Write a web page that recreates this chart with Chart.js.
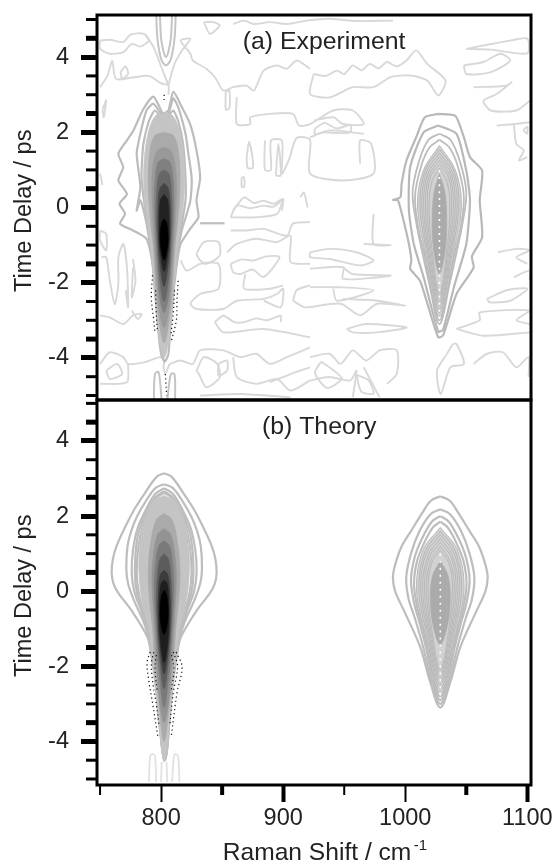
<!DOCTYPE html>
<html><head><meta charset="utf-8">
<style>
html,body{margin:0;padding:0;background:#fff;width:556px;height:864px;overflow:hidden}
canvas{position:absolute;left:0;filter:blur(.5px)}
#a{top:0}#b{top:398px}
</style>
<script src="https://cdn.jsdelivr.net/npm/chart.js@4"></script>
</head><body>
<canvas id="a" width="556" height="402"></canvas>
<canvas id="b" width="556" height="466"></canvas>
<script>
const xTickValues=[750,800,850,900,950,1000,1050,1100];
const xTickHeavy=[850,900,1050,1100];
const yTickValues=[-5,-4.5,-4,-3.5,-3,-2.5,-2,-1.5,-1,-0.5,0,0.5,1,1.5,2,2.5,3,3.5,4,4.5,5];
const yTickHeavy=[4.5,4,2.5,2,0.5,0,-1.5,-2,-3.5,-4];
const yLabelled=[-4,-2,0,2,4];
const peakLow=802.5, peakHighExp=1028, peakHighThe=1028.7;

// --- (a) Experiment: filled bands around the 802 cm-1 mode, rows are [delay, half width]
const expBandShades=['#c4c4c4','#aaaaaa','#999999','#808080','#666666','#444444','#222222','#000000'];
const expBands=[
 [[2.5,0],[2.45,7],[2,13],[1.2,16.5],[.4,16.5],[-.4,14],[-1,11],[-1.6,9.5],[-2.5,6.5],[-3.4,4.5],[-4,0]],
 [[2,0],[1.9,8],[1.4,12],[.6,13],[-.4,11],[-1,9],[-1.8,7.5],[-2.8,5],[-3.6,0]],
 [[1.6,0],[1.5,6],[1,9.5],[.4,10],[-.5,9],[-1.2,7.5],[-2,6],[-2.8,3.5],[-3.2,0]],
 [[1.3,0],[1.2,5],[.7,7.5],[0,8],[-.8,7],[-1.6,5.5],[-2.4,3.5],[-2.8,0]],
 [[1,0],[.9,4],[.4,6],[-.3,6.5],[-1,5.5],[-1.8,4],[-2.5,0]],
 [[.65,0],[.5,3.5],[0,5],[-.7,5],[-1.4,3.8],[-2.1,0]],
 [[.35,0],[.2,3],[-.3,4],[-1,3.8],[-1.7,0]],
 [[-.3,0],[-.4,2],[-.8,3.3],[-1.1,2.5],[-1.4,0]]
];
// contours around the 802 mode
const expLowLoops=[
 [[801.4,2.49],[793.7,2.95],[785.5,2.62],[777.3,2.05],[771.9,1.78],[765,1.43],[769,1.07],[765,.72],[772,.36],[766,.1],[770.5,-.17],[766.4,-.43],[777,-.61],[788,-.83],[792,-1.3],[795,-2],[797,-3],[800,-3.9],[803,-4.1],[806,-3.9],[808,-3],[811,-2],[815.6,-1],[823.8,-.57],[830.6,-.26],[829,.19],[832,.8],[829,1.52],[824,2.2],[817,2.67],[810,3.08],[806,2.58],[801.4,2.49]],
 [[801.8,2.4],[793.7,2.76],[788,2.58],[783,1.96],[780,1.43],[783,.54],[780,-.08],[783,.19],[787,-.26],[790,-.8],[793,-1.5],[796,-2.6],[803,-3.9],[809,-2.6],[812,-1.5],[817,-.6],[821,-.17],[824,.19],[825,.8],[822,1.5],[820,1.96],[814,2.67],[810,2.9],[806,2.5],[801.8,2.4]],
 [[802,2.3],[795,2.58],[790,2.3],[785.5,1.69],[784,.8],[787,-.08],[790,-.7],[794,-1.5],[803,-3.8],[811,-1.5],[816,-.6],[820,.19],[820,.8],[818,1.69],[814,2.3],[810,2.58],[806,2.45],[802,2.3]]
];
// --- 1028 cm-1 mode contours
const expHighJagged=[
 [[1027,2.49],[1016,2.4],[1009,1.87],[1001,1.25],[997,.63],[996,.27],[990,.2],[994,.19],[998.6,-.35],[1003,-.97],[1005,-1.41],[1004,-1.63],[1012,-1.94],[1019,-2.65],[1027,-3.45],[1031,-3.4],[1042,-2.3],[1056,-1.6],[1054.6,-1.3],[1063,-.79],[1061,.19],[1063,.98],[1053,1.34],[1048,1.87],[1041,2.44],[1027,2.49]],
 [[1027,2.18],[1015,2],[1004,1.07],[1003,-.08],[1007,-.97],[1015,-1.85],[1027,-3.3],[1031,-3.25],[1040,-2.1],[1050,-.97],[1053,.19],[1050,.98],[1042,1.96],[1027,2.18]]
];
const expHighRings=[
 [[1.96,0],[1.8,9],[1.2,17],[.4,22],[-.4,19],[-1.2,14],[-2,8.5],[-3.1,0]],
 [[1.8,0],[1.6,8],[1.1,15],[.3,20],[-.5,17.5],[-1.3,12],[-2.1,7],[-3,0]]
];
const expHighFilled=[
 [[1.65,0],[1,13],[.1,18],[-1,13],[-2.9,0]],
 [[1.55,0],[1,11.5],[.1,16],[-1,11.5],[-2.8,0]],
 [[1.45,0],[.95,10.5],[.1,14.5],[-1,10.5],[-2.7,0]],
 [[1.35,0],[.9,9.5],[.1,13],[-1,9.5],[-2.6,0]],
 [[1.25,0],[.85,8.5],[.1,11.5],[-1,8.5],[-2.5,0]],
 [[1.15,0],[.8,7.5],[.1,10],[-1,7.5],[-2.4,0]],
 [[1.05,0],[.7,6],[.1,8.5],[-1,6.5],[-2.3,0]]
];
const expHighCore=[[.9,0],[.4,4.5],[-.4,6],[-1.2,4.5],[-1.76,0]];
const expHighGap=[[1028,1],[1028,-3.1]];
// small-signal contours, closed
const expNoiseLoops=[
 [[750,4.44],[758,4.46],[769,4.4],[775,4.6],[786,4.62],[790,4.44],[783,4.28],[776,4.35],[769,4.13],[758,4.09],[750,4.22]],
 [[835,4.93],[843,4.93],[848,4.84],[840,4.62]],
 [[925,3.55],[935,3.5],[944,3.64],[950,3.55],[957,3.78],[964,3.65],[971,3.82],[978,3.7],[985,3.87],[993,3.75],[1001,3.91],[1009,4.18],[1018,3.82],[1033,3.38],[1027,2.98],[1018,3.38],[1004,3.51],[988,3.47],[974,3.2],[957,3.2],[938,2.93],[922,3.02]],
 [[1050,4.22],[1064,4.31],[1086,4.44],[1100,4.49],[1100,4.1],[1070,4.2]],
 [[1048,3.78],[1064,3.87],[1078,4.09],[1086,3.91],[1070,3.6],[1050,3.55]],
 [[853,3.1],[853,2.6],[856,2.65],[856,3.1]],
 [[866,.8],[866,.55],[868,.55],[868,.8]],
 [[857,-.26],[862,.05],[873,-.02],[884,.05],[892,.02],[899,.19],[895,-.17],[878,-.26]],
 [[829,-1.23],[835,-.92],[847,-.92],[848,-1.28],[837,-1.5],[831,-1.37]],
 [[857,-1.5],[866,-1.38],[876,-1.41],[886,-1.3],[897,-1.32],[884,-1.85],[875,-1.65],[865,-1.77],[859,-1.72]],
 [[829,-4.34],[835,-3.98],[846,-4.16],[848,-4.52],[837,-4.78],[831,-4.43]],
 [[847,-4.16],[854,-4.07],[854,-4.34],[847,-4.47]],
 [[755,-4.34],[764,-4.16],[768,-4.43],[758,-4.56]],
 [[750,-.61],[755,-.7],[755,-1.14],[750,-.88]],
 [[922,-1.19],[938,-1.1],[960,-1.19],[974,-1.41],[963,-1.54],[938,-1.37],[922,-1.32]],
 [[952,-3.23],[968,-3.1],[1001,-3.19],[977,-3.32],[957,-3.32]],
 [[1039,-3.63],[1034,-3.9],[1026,-4.34],[1029,-4.96],[1037,-4.25],[1048,-4.16],[1042,-3.63]],
 [[1067,-2.43],[1083,-2.2],[1100,-2.16],[1086,-2.48],[1069,-2.52]],
 [[926,2.1],[934,2.25],[944,2.1],[955,2.2],[955,2],[944,1.98],[934,2],[926,1.95]],
 [[870,1.3],[872,1.75],[875,1.3],[875,1.05],[871,1.05]],
 [[894,.85],[896,1.7],[898,.85]],
 [[931,-4.1],[940,-4.3],[948,-4.55],[936,-4.8],[926,-4.4]],
 [[960,-4.45],[970,-4.6],[974,-4.95],[964,-4.9]],
 [[1100,1.95],[1097,2.05],[1100,2.15]],
 [[752,2.6],[755,2.85],[753,2.4]],
 [[768,3.4],[773,3.55],[771,3.75],[767,3.6]]
];
// small-signal contours, open
const expNoisePaths=[
 [[750,3.2],[756,3.5],[760,3.9],[763,3.42],[775,3.45],[790,3.5],[800,3.3],[806,3.25],[806,3]],
 [[806,3.25],[800,3.75],[794,4.26],[787,4.6]],
 [[806,3.25],[811,3.82],[817,4.17],[824,4.49],[816,4.44],[824,4.09],[826,3.91],[837,3.69],[844,3.47],[851,3.11],[859,3.2],[870,3.24],[876,3.11],[884,3.64],[895,3.78],[903,3.69],[911,3.91],[922,3.69]],
 [[859,4.88],[868,4.97],[876,4.88],[889,4.93],[903,4.88],[919,4.97],[938,5.02],[960,4.96],[990,4.97]],
 [[1056,3.2],[1083,3.24],[1087,3.33],[1075,3.02],[1064,2.84],[1070,2.58],[1091,2.58],[1102,2.84]],
 [[1075,2.18],[1089,2.22],[1102,2.27]],
 [[1089,2.22],[1091,1.69],[1097,1.52],[1093,1.25],[1100,1.34]],
 [[862,2.93],[862,2.22],[873,2.22],[873,2.4],[889,2.49],[908,2.49],[913,2.18],[922,2.22],[941,2.58],[957,2.58],[966,2.22],[949,2.22],[941,2.4],[925,2.31]],
 [[922,1.87],[938,2.05],[966,1.96]],
 [[885,1.78],[885,1],[890,1],[890,1.78],[899,1.78],[899,.9],[905,1.3],[911,1.85],[922,1.8],[922,.9],[949,.72],[974,.9],[972,1.7],[963,1.78],[963,1.17]],
 [[859,-.08],[868,.27],[876,.12],[884,.18],[892,.1],[900,.23],[899,-.08]],
 [[914,.27],[917,.4],[920,0]],
 [[750,.9],[752,.6]],
 [[857,-.61],[870,-.61],[884,-.57],[903,-.75],[908,-.43],[922,-.39]],
 [[854,-1.19],[862,-.97],[878,-.83],[895,-.92],[906,-.75],[906,-1.45],[922,-1.5]],
 [[816,-1.41],[821,-1.68],[832,-1.5],[847,-1.5],[847,-2.16],[832,-2.3],[824,-2.56],[829,-2.7],[851,-2.7],[862,-2.48],[884,-2.43],[895,-2.3],[900,-2.16],[898,-2.65],[884,-2.48]],
 [[869,-1.77],[868,-2.16],[889,-2.16],[900,-2.07]],
 [[908,-2.48],[911,-2.2],[922,-2.07]],
 [[908,-2.48],[917,-2.65],[922,-2.65]],
 [[844,-3.05],[851,-2.88],[860,-3.05],[868,-3.05],[878,-2.95],[887,-3],[898,-2.88],[898,-3.05]],
 [[844,-3.05],[851,-3.32],[884,-3.23],[922,-3.45]],
 [[807,-4.16],[816,-4.07],[826,-4.16],[832,-3.8],[851,-3.8],[865,-3.98],[878,-3.89],[889,-4.16],[903,-3.98],[922,-3.72]],
 [[859,-3.98],[862,-4.51],[878,-4.69],[895,-4.56],[906,-4.87],[922,-4.6]],
 [[889,-4.65],[906,-4.43],[922,-4.25]],
 [[832,-5],[865,-4.96],[906,-5.05]],
 [[751,-1.32],[755,-1.32],[758,-1.94],[762,-2.57],[765,-2.03],[765,-1.32],[769,-.97],[772,-1.59],[773,-2.65],[771,-2.2]],
 [[777,-1.37],[779,-1.94],[776,-2.39],[777,-1.59]],
 [[750,-2.87],[758,-2.92],[769,-3.1],[777,-2.87],[784,-2.83],[781,-2.97],[776,-2.74]],
 [[750,-4.16],[758,-3.85],[769,-3.98],[773,-4.16],[786,-4.12],[799,-3.98],[802.5,-4.05],[802,-4.25],[803.5,-4.45]],
 [[750,-4.69],[772,-4.65],[773,-4.16]],
 [[922,-1.63],[949,-1.59],[949,-1.9],[988,-1.81],[957,-1.77],[949,-1.59]],
 [[922,-2.12],[944,-2.12],[974,-2.2],[944,-2.48],[941,-2.16]],
 [[922,-2.65],[947,-2.56],[963,-2.87],[977,-2.56],[1000,-2.61],[977,-2.48],[949,-2.43]],
 [[922,-3.98],[938,-3.89],[947,-4.16],[957,-3.8],[968,-4.07],[979,-3.8],[993,-3.8],[993,-4.43],[985,-4.69]],
 [[922,-4.6],[938,-4.51],[955,-4.6],[960,-4.34],[957,-5.05]],
 [[966,-4.25],[979,-5.05]],
 [[974,-.17],[974,-.97],[988,-1],[966,-.97]],
 [[1056,-4.16],[1067,-3.89],[1080,-3.85],[1091,-4.25],[1101,-3.98],[1101,-4.51]],
 [[1042,-3.23],[1061,-3],[1061,-2.79],[1102,-2.74],[1091,-3],[1102,-3.1]],
 [[1042,-3.23],[1064,-3.41],[1102,-3.32]],
 [[1076,-1.19],[1091,-1.1],[1102,-1.14],[1091,-1.32],[1100,-1.5]],
 [[1089,-1.85],[1102,-1.68],[1102,-1.94]],
 [[807,-4.16],[804,-4.4]]
];
const expFingers=[
 [[796,5.15],[797,4.5],[800,3.95],[804,3.78],[808,3.95],[811,4.5],[812,5.15]],
 [[799,5.15],[800,4.5],[802,4.15],[804,4],[806,4.15],[808,4.5],[809,5.15]],
 [[794,-5.15],[795,-4.43],[798,-4.38],[800.5,-5.15]],
 [[805,-5.15],[808,-4.43],[811,-4.43],[811.5,-5.15]]
];
const expDotted=[
 [[793,-1.8],[792,-2.4],[794,-3],[795,-3.35]],
 [[795.5,-2.2],[796,-2.8],[797,-3.3]],
 [[814,-1.95],[813,-2.5],[812.5,-3],[808,-3.6]],
 [[811,-2.2],[810,-2.8],[808,-3.4]],
 [[802.5,3],[802.5,2.8]],
 [[803.5,-4.43],[804.5,-5]]
];
const expSpike=[[832,-.42],[852,-.42]];

// --- (b) Theory
const theLowRings=[
 [[3.14,0],[3.05,6],[2.6,16],[2.2,24],[1.8,30.5],[1.2,39],[.85,42],[.5,43],[.2,41.5],[-.05,37.5],[-.5,27],[-1.2,14],[-1.6,11],[-2.5,7],[-3.5,4],[-4.5,.5]],
 [[2.85,0],[2.75,7],[2.4,15],[2,22],[1.6,27],[1.2,30],[.6,31],[.2,29.5],[-.3,24],[-.8,17],[-1.2,13],[-1.6,10],[-2.5,6.5],[-3.5,3.5],[-4.5,.5]],
 [[2.74,0],[2.6,7],[2.2,14.5],[1.7,21.5],[1.1,25.5],[.5,26.6],[0,24.5],[-.5,19],[-1.1,13],[-2,8],[-4.5,.5]],
 [[2.66,0],[2.5,7],[2,16],[1.4,22],[.5,24],[-.1,22],[-.6,17],[-1.1,12.5],[-2,7.5],[-4.5,.5]],
 [[2.62,0],[2.45,8],[1.9,16],[1.2,21],[.5,22.5],[-.1,20.5],[-.7,15.5],[-1.2,12],[-2,7.5],[-4.5,.5]]
];
const theBandShades=['#c4c4c4','#aaaaaa','#939393','#7a7a7a','#5c5c5c','#3c3c3c','#1e1e1e','#000000'];
const theBands=[
 [[2.55,0],[2.4,9],[1.8,17],[1,20.5],[.4,20.5],[-.3,18],[-1,12.5],[-1.6,10],[-2.5,7],[-3.5,4.5],[-4.55,0]],
 [[2.07,0],[1.9,6.5],[1.3,11],[.5,13],[-.2,12],[-1,9.5],[-1.8,8],[-2.8,5],[-4,0]],
 [[1.67,0],[1.5,5.5],[.9,9],[.3,10],[-.4,9],[-1.2,7.5],[-2,6],[-3,3.5],[-3.5,0]],
 [[1.35,0],[1.2,4.5],[.7,7],[.1,8],[-.6,7.2],[-1.4,5.8],[-2.2,4],[-3.1,0]],
 [[1,0],[.85,3.5],[.4,5.5],[-.2,6.3],[-1,5.4],[-1.7,4],[-2.6,0]],
 [[.56,0],[.45,3],[0,4.7],[-.7,5],[-1.4,3.8],[-2.2,0]],
 [[.3,0],[.2,2.5],[-.2,3.8],[-.9,3.8],[-1.5,2.5],[-1.9,0]],
 [[.03,0],[-.1,2],[-.5,3.3],[-.9,2.5],[-1.15,0]]
];
const theHighRings=[
 [[2.53,0],[2.4,8],[2.07,15],[1.6,24],[1.17,32],[.7,37],[.37,38.8],[0,37],[-.59,28.7],[-1.49,16.4],[-2.37,8.7],[-3.1,0]],
 [[2.18,0],[2.05,8],[1.6,17],[1,24],[.37,27.9],[-.2,26],[-.7,21],[-1.49,14],[-2.37,7.5],[-3,0]],
 [[2,0],[1.85,7],[1.4,15],[.9,21],[.3,24],[-.3,21.5],[-.9,16.5],[-1.6,11],[-2.37,6.5],[-2.9,0]],
 [[1.85,0],[1.7,6],[1.3,13],[.8,19],[.2,21.5],[-.4,19],[-1,14.5],[-1.7,9.5],[-2.8,0]]
];
const theHighFilled=[
 [[1.7,0],[1.1,14],[.1,19.5],[-1,13.5],[-2.7,0]],
 [[1.6,0],[1.05,12.5],[.1,17.5],[-1,12.2],[-2.6,0]],
 [[1.5,0],[1,11.5],[.1,16],[-1,11],[-2.5,0]],
 [[1.4,0],[.95,10],[.1,14.5],[-1,10],[-2.4,0]],
 [[1.3,0],[.9,9],[.1,13],[-1,9],[-2.3,0]],
 [[1.2,0],[.8,8],[.1,11.5],[-1,8],[-2.2,0]],
 [[1.1,0],[.75,7],[.1,10],[-1,7],[-2.1,0]]
];
const theHighCore=[[.82,0],[.4,6.5],[-.2,8.2],[-.9,6],[-1.43,0]];
const theHighGap=[[1028.7,1],[1028.7,-2.9]];
const theDotted=[
 [[791,-1.62],[788.5,-1.91],[790,-2.4],[792.6,-2.9],[797.5,-3.9]],
 [[794,-1.62],[792,-1.95],[793.5,-2.5],[796,-3],[798.5,-3.6]],
 [[796,-1.7],[795,-2.1],[797,-2.7]],
 [[812.3,-1.62],[817.2,-2.02],[813,-2.71],[808.2,-3.9]],
 [[810,-1.62],[813.5,-2],[810,-2.7],[807,-3.6]],
 [[808.5,-1.7],[810.5,-2.1],[808,-2.7]]
];
const theGhosts=[
 [[790,-5.08],[791,-4.4],[793,-4.33],[795,-4.4],[796,-5.08]],
 [[809,-5.08],[810.5,-4.4],[812,-4.33],[814,-4.4],[815,-5.08]],
 [[800,-5.08],[800.5,-4.55]],
 [[805,-5.08],[804.5,-4.55]]
];

const pts=a=>a.map(([x,y])=>({x,y}));
const closed=a=>pts(a.concat([a[0]]));
const ring=(c,rows)=>{
  const right=rows.map(([y,w])=>({x:c+w,y}));
  const left=rows.slice(0,-1).reverse().map(([y,w])=>({x:c-w,y}));
  return right.concat(left);
};
function line(data,color,width,extra){
  return Object.assign({data,showLine:true,pointRadius:0,borderColor:color,borderWidth:width,backgroundColor:'transparent',tension:0.35,fill:false},extra||{});
}
const band=(data,fillColor)=>line(data,fillColor,0.6,{fill:'shape',backgroundColor:fillColor});

const setA=[];
expNoiseLoops.forEach(l=>setA.push(line(closed(l),'#d8d8d8',1.9,{tension:.25})));
expNoisePaths.forEach(l=>setA.push(line(pts(l),'#d8d8d8',1.9,{tension:.25})));
expFingers.forEach(l=>setA.push(line(pts(l),'#c4c4c4',2)));
setA.push(line(pts(expSpike),'#bdbdbd',2.2));
expLowLoops.forEach(l=>setA.push(line(pts(l),'#bcbcbc',2.2,{tension:.2})));
expHighJagged.forEach(l=>setA.push(line(pts(l),'#b8b8b8',2.2,{tension:.2})));
expHighRings.forEach(r=>setA.push(line(ring(peakHighExp,r),'#bcbcbc',1.8)));
expHighFilled.forEach(r=>setA.push(line(ring(peakHighExp,r),'#b8b8b8',1,{fill:'shape',backgroundColor:'#d2d2d2'})));
setA.push(band(ring(peakHighExp,expHighCore),'#ababab'));
setA.push(line(pts(expHighGap),'#ffffff',1.6,{borderDash:[2,5]}));
expBands.forEach((r,i)=>setA.push(band(ring(peakLow,r),expBandShades[i])));
expDotted.forEach(l=>setA.push(line(pts(l),'#111111',1.2,{borderDash:[1.2,3]})));

const setB=[];
theGhosts.forEach(l=>setB.push(line(pts(l),'#e2e2e2',1.8)));
theLowRings.forEach(r=>setB.push(line(ring(peakLow,r),'#bdbdbd',2.2)));
theHighRings.forEach(r=>setB.push(line(ring(peakHighThe,r),'#bdbdbd',2.2)));
theHighFilled.forEach(r=>setB.push(line(ring(peakHighThe,r),'#b8b8b8',1,{fill:'shape',backgroundColor:'#d2d2d2'})));
setB.push(band(ring(peakHighThe,theHighCore),'#ababab'));
setB.push(line(pts(theHighGap),'#ffffff',1.6,{borderDash:[2,5]}));
theBands.forEach((r,i)=>setB.push(band(ring(peakLow,r),theBandShades[i])));
theDotted.forEach(l=>setB.push(line(pts(l),'#111111',1.2,{borderDash:[1.2,3]})));

[setA,setB].forEach(s=>s.forEach((d,i)=>{d.order=-i;}));

const FONT='"Liberation Sans",Arial,sans-serif';
const INK='#222222';
const frame=(label,labelX,labelY)=>({
  id:'frame',
  afterDraw(c){
    const g=c.ctx,a=c.chartArea,xs=c.scales.x,ys=c.scales.y;
    g.save();
    g.strokeStyle='#000';g.lineWidth=3;
    g.strokeRect(a.left,a.top,a.right-a.left,a.bottom-a.top);
    yTickValues.filter(v=>!yLabelled.includes(v)).forEach(v=>{
      const p=ys.getPixelForValue(v);
      g.lineWidth=yTickHeavy.includes(v)?5:3;
      g.beginPath();g.moveTo(a.left-11,p);g.lineTo(a.left,p);g.stroke();
    });
    if(c.options.scales.x.display){
      xTickValues.filter(v=>v%100).forEach(v=>{
        const p=xs.getPixelForValue(v);
        g.lineWidth=xTickHeavy.includes(v)?4:2;
        g.beginPath();g.moveTo(p,a.bottom);g.lineTo(p,a.bottom+10);g.stroke();
      });
      g.fillStyle=INK;g.textAlign='left';g.textBaseline='alphabetic';
      g.font='24.6px '+FONT;
      const start=xs.getPixelForValue(850.5),base=a.bottom+75;
      g.fillText('Raman Shift / cm',start,base);
      g.font='15px '+FONT;
      g.fillText('-1',start+g.measureText('Raman Shift / cm').width*0+191,base-10);
    }
    g.fillStyle=INK;g.font='24.8px '+FONT;g.textAlign='center';g.textBaseline='middle';
    g.fillText(label,xs.getPixelForValue(labelX),ys.getPixelForValue(labelY));
    g.restore();
  }
});
const noPad=s=>{s.paddingTop=s.paddingBottom=s.paddingLeft=s.paddingRight=0;};
function options(withX,padTop,padBottom,yMin,yMax,xH){
  return {
    responsive:false,animation:false,devicePixelRatio:1,events:[],
    layout:{padding:{top:padTop,bottom:padBottom,right:25,left:0}},
    plugins:{legend:{display:false},tooltip:{enabled:false}},
    scales:{
      x:{type:'linear',display:withX,min:747.5,max:1103,
        afterBuildTicks:s=>{s.ticks=xTickValues.map(value=>({value}));},
        afterFit:s=>{if(xH)s.height=xH;noPad(s);},
        border:{display:false},
        grid:{drawOnChartArea:false,tickLength:17,
          tickColor:c=>c.tick&&c.tick.value%100?'transparent':'#000',
          tickWidth:c=>c.tick&&xTickHeavy.includes(c.tick.value)?4:2},
        ticks:{autoSkip:false,maxRotation:0,padding:2,color:INK,font:{family:FONT,size:23.5},
          callback:v=>v%100?'':String(v)},
        title:{display:false}
      },
      y:{type:'linear',min:yMin,max:yMax,
        afterBuildTicks:s=>{s.ticks=yTickValues.map(value=>({value}));},
        afterFit:s=>{s.width=97;noPad(s);},
        border:{display:false},
        grid:{drawOnChartArea:false,tickLength:16,
          tickColor:c=>c.tick&&yLabelled.includes(c.tick.value)?'#000':'transparent',
          tickWidth:5},
        ticks:{autoSkip:false,padding:12,color:INK,font:{family:FONT,size:23.5},
          callback:v=>yLabelled.includes(v)?String(v):''},
        title:{display:true,text:'Time Delay / ps ',color:INK,font:{family:FONT,size:23.5},padding:{top:10,bottom:0}}
      }
    }
  };
}
new Chart(document.getElementById('a'),{type:'scatter',data:{datasets:setA},
  options:options(false,15,2,-5.12,5.12),plugins:[frame('(a) Experiment',933.5,4.41)]});
new Chart(document.getElementById('b'),{type:'scatter',data:{datasets:setB},
  options:options(true,2,0,-5.16,5.09,79),plugins:[frame('(b) Theory',929.5,4.36)]});
</script>
</body></html>
